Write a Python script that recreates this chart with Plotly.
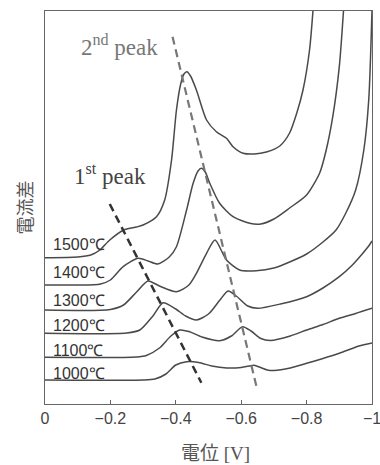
import plotly.graph_objects as go

# ---- data (potential magnitude [V], current difference in arbitrary units) ----
temps = ["1000℃", "1100℃", "1200℃", "1300℃", "1400℃", "1500℃"]

x_1000 = [0, 0.30, 0.336, 0.37, 0.40, 0.433, 0.47, 0.51, 0.555, 0.60, 0.625, 0.638, 0.655, 0.68, 0.70, 0.75, 0.80, 0.85, 0.90, 0.96, 1.0]
y_1000 = [24, 24, 25, 30, 39, 42.3, 41.5, 38, 36, 36.5, 38, 38.8, 37, 34, 33.5, 36, 40.7, 45.5, 50.7, 58, 61]

x_1100 = [0, 0.28, 0.31, 0.35, 0.385, 0.412, 0.44, 0.48, 0.534, 0.57, 0.604, 0.63, 0.66, 0.69, 0.75, 0.80, 0.85, 0.90, 0.95, 1.0]
y_1100 = [46.7, 47, 48.5, 56, 68, 74, 72.5, 67, 63.3, 68, 77.3, 73, 65.5, 63.5, 68, 74, 79.5, 85.7, 90.5, 95.7]

x_1200 = [0, 0.25, 0.29, 0.33, 0.361, 0.40, 0.43, 0.463, 0.50, 0.535, 0.56, 0.585, 0.62, 0.65, 0.72, 0.80, 0.85, 0.90, 0.94, 0.97, 0.99, 1.0]
y_1200 = [70.7, 71, 74, 88, 101.3, 95, 88, 84, 90, 104, 113, 108, 98, 95.7, 100, 107.3, 116, 127.3, 139, 150, 158, 163]

x_1300 = [0, 0.20, 0.24, 0.28, 0.315, 0.35, 0.402, 0.44, 0.463, 0.494, 0.52, 0.555, 0.595, 0.646, 0.70, 0.75, 0.80, 0.85, 0.89, 0.92, 0.95, 0.975, 0.99, 1.0]
y_1300 = [94, 94.5, 99, 112, 123, 118, 112.3, 119, 130.7, 150.7, 164, 144, 134, 133.3, 136, 142.3, 150, 162, 174, 191, 214, 254, 304, 394]

x_1400 = [0, 0.15, 0.17, 0.20, 0.239, 0.285, 0.315, 0.345, 0.38, 0.402, 0.433, 0.453, 0.468, 0.478, 0.49, 0.504, 0.534, 0.575, 0.626, 0.66, 0.70, 0.748, 0.80, 0.84, 0.86, 0.88, 0.90, 0.915]
y_1400 = [119, 119.2, 120, 124, 137.3, 145.7, 143, 140, 147, 157.3, 194, 220.7, 233, 235.7, 232, 220.7, 200.7, 187.3, 180.7, 180, 185, 196, 209, 231, 254, 287.3, 337.3, 404]

x_1500 = [0, 0.10, 0.14, 0.168, 0.198, 0.244, 0.28, 0.30, 0.341, 0.366, 0.387, 0.402, 0.415, 0.425, 0.434, 0.445, 0.463, 0.494, 0.524, 0.555, 0.575, 0.606, 0.64, 0.677, 0.718, 0.748, 0.77, 0.789, 0.809, 0.822]
y_1500 = [146.3, 147, 149, 154, 164, 174.5, 177, 179, 187.3, 204, 244, 294, 320, 330, 332.3, 328, 314, 284, 272.3, 265.7, 257.3, 250.7, 250, 252, 258, 271, 291, 314, 354, 404]

curves_x = [x_1000, x_1100, x_1200, x_1300, x_1400, x_1500]
curves_y = [y_1000, y_1100, y_1200, y_1300, y_1400, y_1500]
label_y = [30.5, 54, 79, 103.5, 132, 160]

peak1_x = [0.198, 0.478]
peak1_y = [200, 21.3]
peak2_x = [0.39, 0.648]
peak2_y = [367.3, 15.7]

tick_vals = [0, -0.2, -0.4, -0.6, -0.8, -1]
tick_text = ["0", "−0.2", "−0.4", "−0.6", "−0.8", "−1"]

fig = go.Figure()
for xs, ys, name in zip(curves_x, curves_y, temps):
    fig.add_trace(go.Scatter(
        x=[-v for v in xs], y=ys, mode="lines", name=name,
        line=dict(color="#4a4a4a", width=1.5, shape="spline", smoothing=0.7),
        showlegend=False, hoverinfo="skip"))

fig.add_trace(go.Scatter(
    x=[-v for v in peak1_x], y=peak1_y, mode="lines",
    line=dict(color="#333333", width=2.5, dash="8px,5px"),
    showlegend=False, hoverinfo="skip"))
fig.add_trace(go.Scatter(
    x=[-v for v in peak2_x], y=peak2_y, mode="lines",
    line=dict(color="#777777", width=2.2, dash="8px,5px"),
    showlegend=False, hoverinfo="skip"))

annotations = []
for name, ly in zip(temps, label_y):
    annotations.append(dict(x=-0.018, y=ly, xref="x", yref="y", text=name,
                            showarrow=False, xanchor="left", yanchor="middle",
                            font=dict(family="Liberation Sans, Arial", size=16, color="#333333")))
annotations.append(dict(x=-0.229, y=359, xref="x", yref="y", text="2<sup>nd</sup> peak",
                        showarrow=False, xanchor="center", yanchor="middle",
                        font=dict(family="Liberation Serif, Times New Roman", size=23, color="#777777")))
annotations.append(dict(x=-0.198, y=230, xref="x", yref="y", text="1<sup>st</sup> peak",
                        showarrow=False, xanchor="center", yanchor="middle",
                        font=dict(family="Liberation Serif, Times New Roman", size=23, color="#444444")))
annotations.append(dict(x=0.52, y=-0.127, xref="paper", yref="paper", text="電位 [V]",
                        showarrow=False, xanchor="center", yanchor="middle",
                        font=dict(family="Liberation Serif, Noto Sans CJK JP", size=19, color="#555555")))
annotations.append(dict(x=-0.067, y=0.50, xref="paper", yref="paper", text="電流差",
                        showarrow=False, xanchor="center", yanchor="middle", textangle=-90,
                        font=dict(family="Noto Sans CJK JP", size=18, color="#555555")))

fig.update_layout(
    width=380, height=465,
    margin=dict(l=45, r=8, t=11, b=61, autoexpand=False),
    paper_bgcolor="white", plot_bgcolor="white",
    annotations=annotations,
    xaxis=dict(range=[0, -1], tickvals=tick_vals, ticktext=tick_text,
               ticks="inside", ticklen=4, tickcolor="#666666",
               ticklabeloverflow="allow", automargin=False,
               showgrid=False, zeroline=False, showline=True, mirror=True,
               linecolor="#666666", linewidth=1,
               tickfont=dict(family="Liberation Sans, Arial", size=16, color="#444444")),
    yaxis=dict(range=[0, 393], showticklabels=False, ticks="", automargin=False,
               showgrid=False, zeroline=False, showline=True, mirror=True,
               linecolor="#666666", linewidth=1),
)

# remove the default page margin so the 380x465 figure fills the window exactly
fig.write_html("out.html", config={"displayModeBar": False}, post_script=(
    "document.body.style.margin='0';"
    "document.body.style.overflow='hidden';"
    "document.documentElement.style.overflow='hidden';"))
